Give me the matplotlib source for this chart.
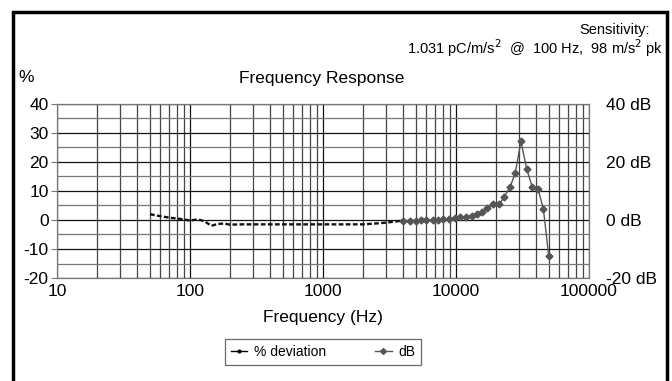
import matplotlib
matplotlib.use("Agg")
from matplotlib import pyplot as plt
from matplotlib.lines import Line2D
from matplotlib.patches import Rectangle
from matplotlib.ticker import FixedLocator, NullFormatter

# % deviation data (low band)
freq_pct = [50, 60, 70, 80, 90, 100, 110, 120, 130, 145, 160, 180, 200, 250,
            300, 400, 500, 700, 1000, 1500, 2000, 2500, 3000, 3500, 4000]
pct = [2.0, 1.3, 0.8, 0.5, 0.2, -0.2, 0.1, 0.0, -0.6, -2.0, -1.4, -1.2, -1.6, -1.5,
       -1.5, -1.5, -1.5, -1.5, -1.5, -1.5, -1.5, -1.2, -0.9, -0.5, -0.2]

# dB data (high band)
freq_db = [4000, 4500, 5000, 5500, 6000, 6700, 7300, 8000, 8900, 9800, 10800,
           11900, 13100, 14400, 15600, 17200, 19100, 21200, 23000, 25500,
           27900, 30800, 34000, 37500, 41400, 45400, 49800]
db = [-0.2, -0.2, -0.2, -0.1, -0.1, 0.0, 0.1, 0.2, 0.3, 0.6, 0.9,
      1.2, 1.5, 2.0, 2.9, 4.0, 5.5, 5.4, 8.0, 11.3,
      16.3, 27.1, 17.6, 11.3, 10.6, 3.8, -12.4]

left_ticks = [-20, -10, 0, 10, 20, 30, 40]
right_ticks = [-20, 0, 20, 40]
right_labels = ["-20 dB", "0 dB", "20 dB", "40 dB"]
x_ticks = [10, 100, 1000, 10000, 100000]
x_labels = ["10", "100", "1000", "10000", "100000"]

plt.rcParams['font.family'] = ['Liberation Sans', 'DejaVu Sans']

W, H = 672, 381
fig = plt.figure(figsize=(W / 100, H / 100), dpi=100)
ax = fig.add_axes([57 / W, 1 - 278 / H, (589 - 57) / W, (278 - 104) / H])

# grid
minor_x = [m * 10 ** e for e in range(1, 5) for m in range(2, 10)]
for x in minor_x:
    ax.axvline(x, color='#444444', lw=0.9, zorder=1)
for x in x_ticks:
    ax.axvline(x, color='#111111', lw=0.9, zorder=1)
for y in range(-20, 41, 5):
    ax.axhline(y, color='#111111' if y % 10 == 0 else '#777777', lw=0.9, zorder=1)

ax.plot(freq_pct, pct, color='#111111', lw=1.7, ls=(0, (2.0, 1.0)), zorder=3)
ax.plot(freq_db, db, color='#555555', lw=1.0, marker='D', ms=3.5,
        mfc='#555555', mec='#555555', zorder=3)

ax.set_xscale('log')
ax.set_xlim(10, 100000)
ax.set_ylim(-20, 40)
ax.set_xticks(x_ticks)
ax.set_xticklabels(x_labels, fontsize=12.5)
ax.xaxis.set_minor_locator(FixedLocator(minor_x))
ax.xaxis.set_minor_formatter(NullFormatter())
ax.tick_params(axis='x', which='both', length=0, pad=4)
ax.set_yticks(left_ticks)
ax.set_yticklabels([str(t) for t in left_ticks], fontsize=12.5)
ax.tick_params(axis='y', length=4, color='#777777', pad=2)
for s in ax.spines.values():
    s.set_color('#777777')
    s.set_linewidth(0.9)

ax2 = ax.twinx()
ax2.set_ylim(-20, 40)
ax2.set_yticks(right_ticks)
ax2.set_yticklabels(right_labels, fontsize=12.5)
ax2.tick_params(axis='y', length=0, pad=12)
for s in ax2.spines.values():
    s.set_visible(False)

ax.set_xlabel("Frequency (Hz)", fontsize=12.5, labelpad=8)

fig.text(18 / W, 1 - 78 / H, "%", fontsize=12.5, va='center', ha='left')
fig.text(322 / W, 1 - 78 / H, "Frequency Response", fontsize=12.5, va='center', ha='center')
fig.text(615 / W, 1 - 30 / H, "Sensitivity:", fontsize=10.5, va='center', ha='center')
fig.text(663 / W, 1 - 48 / H, "1.031 pC/m/s$^2$  @  100 Hz,  98 m/s$^2$ pk",
         fontsize=10.5, va='center', ha='right')

handles = [
    Line2D([], [], color='black', lw=1.0, marker='o', ms=2),
    Line2D([], [], color='#555555', lw=1.0, marker='D', ms=3),
]
leg = fig.legend(handles, ["% deviation", "dB"], loc='center',
                 bbox_to_anchor=(323 / W, 1 - 352 / H), ncol=2, fontsize=10,
                 frameon=True, fancybox=False, edgecolor='#444444',
                 handlelength=1.2, handletextpad=0.5, columnspacing=3.5,
                 borderpad=0.4)
leg.get_frame().set_linewidth(0.9)

fig.patches.append(Rectangle((13 / W, -0.05), (667 - 13) / W, 1.05 - 12 / H,
                             transform=fig.transFigure, fill=False,
                             edgecolor='black', lw=2.5))

fig.savefig("out.png", dpi=100)
